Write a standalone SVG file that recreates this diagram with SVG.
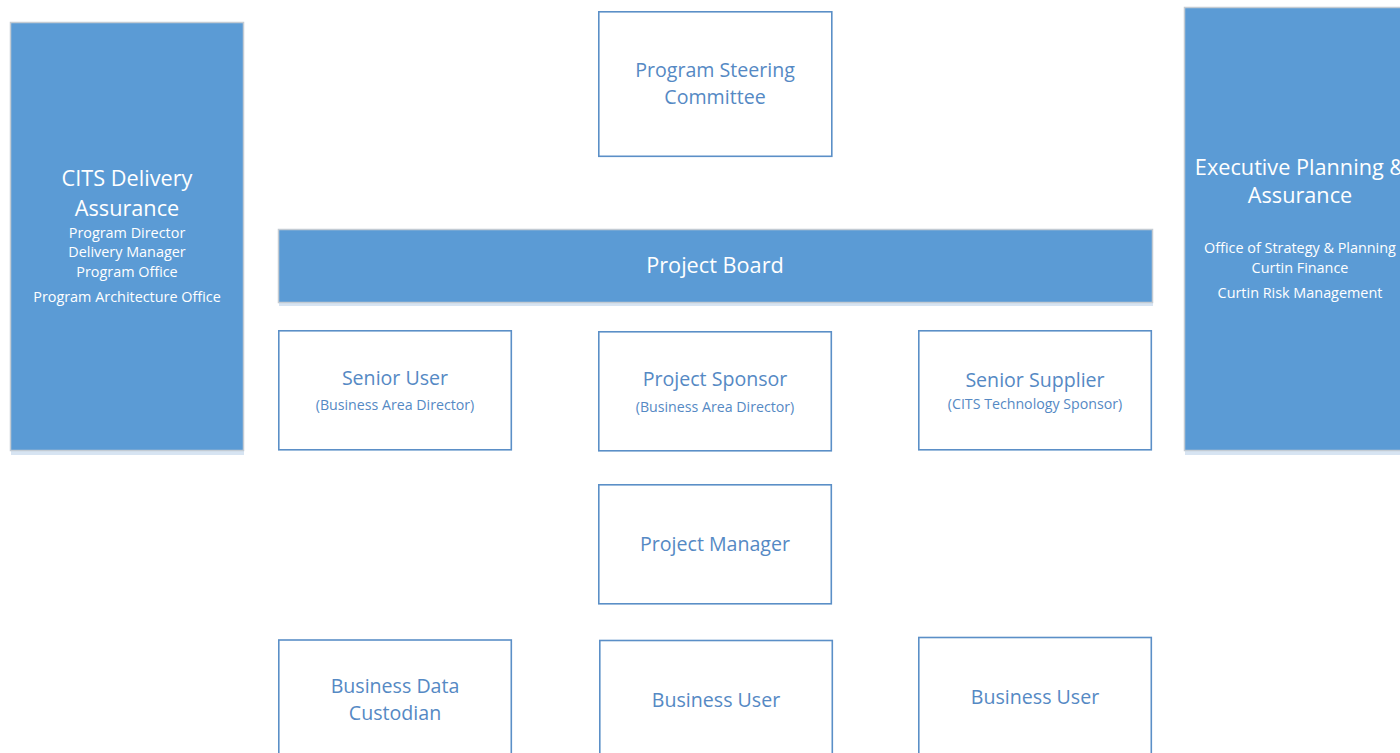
<svg xmlns="http://www.w3.org/2000/svg" width="1400" height="753" viewBox="0 0 1400 753">
  <style>
    text { font-family: "Open Sans", "Noto Sans", sans-serif; text-anchor: middle; }
    .panel { fill: #5b9bd5; stroke: #c3cbd3; stroke-width: 1.5; }
    .shadow { fill: #d7e4f2; }
    .box { fill: #ffffff; stroke: #5b8fc7; stroke-width: 1.6; }
    .title { fill: #ffffff; font-size: 21.7px; }
    .sub { fill: #ffffff; font-size: 14.4px; }
    .lbl { fill: #5589c4; font-size: 19.6px; }
    .small { fill: #5589c4; font-size: 14.2px; }
  </style>
  <rect width="1400" height="753" fill="#ffffff"/>

  <!-- side panels -->
  <g id="cits-delivery-assurance">
    <rect class="shadow" x="11" y="450" width="233" height="5"/>
    <rect class="panel" x="10.5" y="22.5" width="233" height="428"/>
    <text class="title" x="127" y="186">CITS Delivery</text>
    <text class="title" x="127" y="216">Assurance</text>
    <text class="sub" x="127" y="238">Program Director</text>
    <text class="sub" x="127" y="257">Delivery Manager</text>
    <text class="sub" x="127" y="277">Program Office</text>
    <text class="sub" x="127" y="302">Program Architecture Office</text>
  </g>

  <g id="executive-planning-assurance">
    <rect class="shadow" x="1185" y="450" width="215" height="5"/>
    <rect class="panel" x="1184.5" y="7.5" width="230" height="443"/>
    <text class="title" x="1300" y="175">Executive Planning &amp;</text>
    <text class="title" x="1300" y="203">Assurance</text>
    <text class="sub" x="1300" y="253">Office of Strategy &amp; Planning</text>
    <text class="sub" x="1300" y="273">Curtin Finance</text>
    <text class="sub" x="1300" y="298">Curtin Risk Management</text>
  </g>

  <!-- governance -->
  <g id="program-steering-committee">
    <rect class="box" x="598.8" y="11.8" width="233" height="144.5"/>
    <text class="lbl" x="715" y="77">Program Steering</text>
    <text class="lbl" x="715" y="104">Committee</text>
  </g>

  <g id="project-board">
    <rect class="shadow" x="279" y="302" width="874" height="4"/>
    <rect class="panel" x="278.5" y="229.5" width="874" height="73"/>
    <text class="title" x="715" y="273">Project Board</text>
  </g>

  <g id="senior-user">
    <rect class="box" x="278.8" y="330.8" width="232.5" height="119"/>
    <text class="lbl" x="395" y="385">Senior User</text>
    <text class="small" x="395" y="410">(Business Area Director)</text>
  </g>

  <g id="project-sponsor">
    <rect class="box" x="598.8" y="331.8" width="232.5" height="119"/>
    <text class="lbl" x="715" y="386">Project Sponsor</text>
    <text class="small" x="715" y="412">(Business Area Director)</text>
  </g>

  <g id="senior-supplier">
    <rect class="box" x="918.8" y="330.8" width="232.5" height="119"/>
    <text class="lbl" x="1035" y="387">Senior Supplier</text>
    <text class="small" x="1035" y="409">(CITS Technology Sponsor)</text>
  </g>

  <g id="project-manager">
    <rect class="box" x="598.8" y="484.8" width="232.5" height="119"/>
    <text class="lbl" x="715" y="551">Project Manager</text>
  </g>

  <!-- delivery team -->
  <g id="business-data-custodian">
    <rect class="box" x="278.8" y="640" width="232.5" height="130"/>
    <text class="lbl" x="395" y="693">Business Data</text>
    <text class="lbl" x="395" y="720">Custodian</text>
  </g>

  <g id="business-user-1">
    <rect class="box" x="599.8" y="640.5" width="232.5" height="130"/>
    <text class="lbl" x="716" y="707">Business User</text>
  </g>

  <g id="business-user-2">
    <rect class="box" x="918.8" y="637.5" width="232.5" height="130"/>
    <text class="lbl" x="1035" y="704">Business User</text>
  </g>

  <g id="connectors"/>
</svg>
